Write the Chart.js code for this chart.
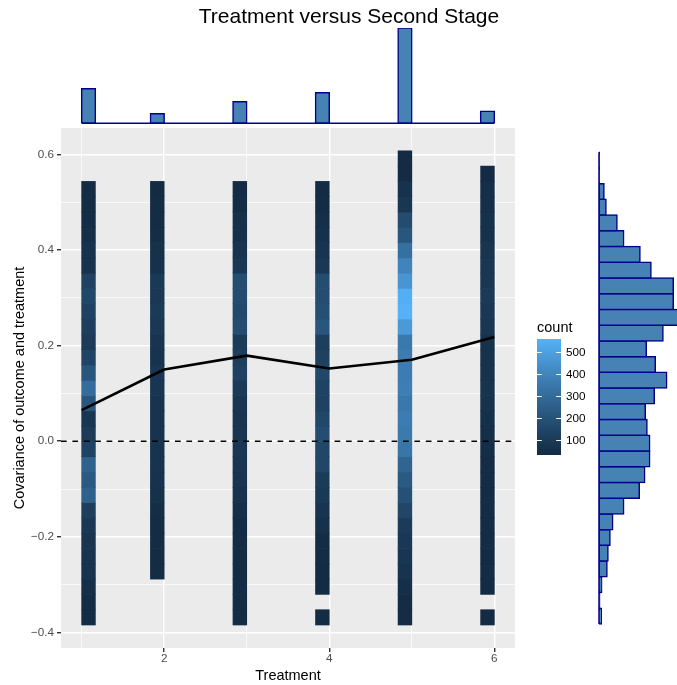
<!DOCTYPE html>
<html>
<head>
<meta charset="utf-8">
<script src="https://cdn.jsdelivr.net/npm/chart.js@4.4.1/dist/chart.umd.min.js"></script>
<style>
html,body{margin:0;padding:0;background:#ffffff;overflow:hidden}
#wrap{position:relative;width:677px;height:685px;overflow:hidden;background:#ffffff}
canvas{position:absolute}
</style>
</head>
<body>
<div id="wrap">
<canvas id="main" width="677" height="685" style="left:0;top:0"></canvas>
<canvas id="right" width="677" height="685" style="left:0;top:0"></canvas>
<canvas id="top" width="677" height="128" style="left:0;top:0"></canvas>
<canvas id="legend" width="80" height="170" style="left:525px;top:300px"></canvas>
</div>
<script>
// ---------------- data ----------------
const treatments = [1, 2, 3, 4, 5, 6];
const meanCov = [0.065, 0.150, 0.179, 0.152, 0.1705, 0.218];
const treatmentCounts = [3450, 950, 2150, 3050, 9550, 1200];

// 2-D bin counts (covariance bins from the bottom up; null = empty bin)
const covBinStart = -0.3845;
const covBinWidth = 0.032;
const countsT1 = [44,44,49,70,70,73,91,118,261,229,266,139,102,81,219,309,213,144,102,118,134,155,134,65,65,49,44,38,38];
const countsT2 = [null,null,null,38,40,40,42,45,58,66,70,72,70,68,70,80,88,72,75,92,100,92,96,60,58,45,42,38,37];
const countsT3 = [40,38,39,40,41,40,42,49,65,75,80,82,81,73,81,100,134,118,107,180,165,178,181,91,73,60,58,38,35];
const countsT4 = [33,null,36,37,38,40,60,73,96,107,150,150,181,155,134,139,155,128,123,218,187,181,181,91,75,60,49,38,36];
const countsT5 = [41,38,49,68,81,91,103,150,195,229,278,345,361,368,352,377,368,368,356,478,563,552,462,399,322,218,176,86,65,36,34];
const countsT6 = [34,null,36,38,37,38,39,40,38,39,40,48,49,55,64,72,66,64,65,82,92,100,86,86,73,60,58,50,49,35];

// marginal histogram of the covariance (bins from the bottom up)
const margBinStart = -0.3824;
const margBinWidth = 0.0329;
const margCounts = [23,7,27,80,90,110,137,247,403,457,507,507,480,463,553,677,563,473,640,800,743,743,520,410,247,180,70,50,3,3];

// axes / labels
const xTickValues = [2, 4, 6];
const xTickLabels = ['2', '4', '6'];
const yTickValues = [-0.4, -0.2, 0, 0.2, 0.4, 0.6];
const yTickLabels = ['\u22120.4', '\u22120.2', '0.0', '0.2', '0.4', '0.6'];
const legendBreaks = [100, 200, 300, 400, 500];
const titleText = 'Treatment versus Second Stage';
const xTitleText = 'Treatment';
const yTitleText = 'Covariance of outcome and treatment';
const legendTitleText = 'count';

// axis ranges
const xMin = 0.75, xMax = 6.25;
const yMin = -0.4326, yMax = 0.6552;

// ---------------- helpers ----------------
const FONT = "'Liberation Sans', Arial, Helvetica, sans-serif";
Chart.defaults.font.family = FONT;
Chart.defaults.animation = false;
Chart.defaults.responsive = false;
Chart.defaults.devicePixelRatio = 1;
Chart.defaults.plugins.legend.display = false;
Chart.defaults.plugins.tooltip.enabled = false;

const tMin = Math.min(...treatments), tMax = Math.max(...treatments);
const tBinWidth = (tMax - tMin) / 30;
function binCenter(t) { return t === tMin ? t + tBinWidth / 2 : t - tBinWidth / 2; }

function minorOf(major, lo, hi) {
  const step = major[1] - major[0];
  const out = [];
  for (let v = major[0] - step / 2; v <= hi + 1e-9; v += step) {
    if (v >= lo - 1e-9) out.push(+v.toFixed(6));
  }
  return out;
}

// Lab colour ramp (#132B43 -> #56B1F7)
function hexToRgb(h) { return [parseInt(h.slice(1,3),16), parseInt(h.slice(3,5),16), parseInt(h.slice(5,7),16)]; }
function s2l(c) { c /= 255; return c <= 0.04045 ? c / 12.92 : Math.pow((c + 0.055) / 1.055, 2.4); }
function l2s(c) { const v = c <= 0.0031308 ? 12.92 * c : 1.055 * Math.pow(c, 1 / 2.4) - 0.055; return Math.round(Math.max(0, Math.min(1, v)) * 255); }
const Xn = 0.95047, Yn = 1.0, Zn = 1.08883, EPS = 216 / 24389, KAP = 24389 / 27;
function fLab(t) { return t > EPS ? Math.cbrt(t) : (KAP * t + 16) / 116; }
function fInv(t) { const t3 = t * t * t; return t3 > EPS ? t3 : (116 * t - 16) / KAP; }
function rgbToLab(rgb) {
  const R = s2l(rgb[0]), G = s2l(rgb[1]), B = s2l(rgb[2]);
  const X = 0.4124564*R + 0.3575761*G + 0.1804375*B;
  const Y = 0.2126729*R + 0.7151522*G + 0.0721750*B;
  const Z = 0.0193339*R + 0.1191920*G + 0.9503041*B;
  const fx = fLab(X / Xn), fy = fLab(Y / Yn), fz = fLab(Z / Zn);
  return [116 * fy - 16, 500 * (fx - fy), 200 * (fy - fz)];
}
function labToRgb(lab) {
  const fy = (lab[0] + 16) / 116, fx = fy + lab[1] / 500, fz = fy - lab[2] / 200;
  const X = Xn * fInv(fx), Y = Yn * fInv(fy), Z = Zn * fInv(fz);
  const R = 3.2404542*X - 1.5371385*Y - 0.4985314*Z;
  const G = -0.9692660*X + 1.8760108*Y + 0.0415560*Z;
  const B = 0.0556434*X - 0.2040259*Y + 1.0572252*Z;
  return [l2s(R), l2s(G), l2s(B)];
}
const labLow = rgbToLab(hexToRgb('#132B43'));
const labHigh = rgbToLab(hexToRgb('#56B1F7'));

const countCols = [countsT1, countsT2, countsT3, countsT4, countsT5, countsT6];
const allCounts = countCols.flat().filter(v => v != null);
const cMin = Math.min(...allCounts), cMax = Math.max(...allCounts);
function countColor(c) {
  const t = Math.max(0, Math.min(1, (c - cMin) / (cMax - cMin)));
  const lab = [0, 1, 2].map(k => labLow[k] + (labHigh[k] - labLow[k]) * t);
  const rgb = labToRgb(lab);
  return 'rgb(' + rgb.join(',') + ')';
}

// heatmap cells
const cells = [];
countCols.forEach((arr, j) => {
  arr.forEach((c, i) => {
    if (c == null) return;
    cells.push({ x: binCenter(treatments[j]), y: [covBinStart + i * covBinWidth, covBinStart + (i + 1) * covBinWidth], c: c });
  });
});

const panelBg = {
  id: 'panelBg',
  beforeDraw(chart, args, opts) {
    if (!opts || !opts.color) return;
    const { ctx, chartArea: a } = chart;
    ctx.save();
    ctx.fillStyle = opts.color;
    ctx.fillRect(a.left, a.top, a.right - a.left, a.bottom - a.top);
    ctx.restore();
  }
};

// ---------------- main panel ----------------
const xMinor = minorOf(xTickValues, xMin, xMax);
const yMinor = minorOf(yTickValues, yMin, yMax);
const xLabelMap = new Map(xTickValues.map((v, i) => [v, xTickLabels[i]]));
const yLabelMap = new Map(yTickValues.map((v, i) => [v, yTickLabels[i]]));
const xAll = [...xTickValues, ...xMinor].sort((a, b) => a - b);
const yAll = [...yTickValues, ...yMinor].sort((a, b) => a - b);

const MAJOR_W = 1.42, MINOR_W = 0.71;

new Chart(document.getElementById('main'), {
  type: 'bar',
  plugins: [panelBg],
  data: {
    datasets: [
      {
        type: 'line', label: 'mean', order: 0,
        data: treatments.map((t, i) => ({ x: t, y: meanCov[i] })),
        borderColor: '#000000', borderWidth: 2.6, pointRadius: 0, tension: 0,
        borderJoinStyle: 'round', borderCapStyle: 'butt'
      },
      {
        type: 'line', label: 'zero', order: 1,
        data: [{ x: xMin, y: 0 }, { x: xMax, y: 0 }],
        borderColor: '#000000', borderWidth: 1.42, borderDash: [5.7, 5.7], pointRadius: 0
      },
      {
        type: 'bar', label: 'count', order: 2,
        data: cells,
        backgroundColor: cells.map(d => countColor(d.c)),
        borderWidth: 0, inflateAmount: 0.33,
        barPercentage: 0.2, categoryPercentage: 1, grouped: false
      }
    ]
  },
  options: {
    layout: { padding: { left: 0, top: 128, right: 162, bottom: 0 } },
    plugins: { panelBg: { color: '#EBEBEB' }, title: { display: false } },
    scales: {
      x: {
        type: 'linear', min: xMin, max: xMax, offset: false,
        afterBuildTicks: s => { s.ticks = xAll.map(v => ({ value: v })); },
        afterFit: s => { s.height = 37; },
        grid: {
          offset: false, color: '#FFFFFF',
          lineWidth: ctx => (ctx.tick && xLabelMap.has(ctx.tick.value)) ? MAJOR_W : MINOR_W,
          tickColor: ctx => (ctx.tick && xLabelMap.has(ctx.tick.value)) ? '#333333' : 'rgba(0,0,0,0)',
          tickWidth: 1.42, tickLength: 4, drawTicks: true
        },
        border: { display: false },
        ticks: {
          autoSkip: false, maxRotation: 0, padding: 0,
          color: '#4D4D4D', font: { size: 11.7 },
          callback: v => xLabelMap.has(v) ? xLabelMap.get(v) : ''
        },
        title: { display: true, text: xTitleText, color: '#000000', font: { size: 14.5 }, padding: { top: 0, bottom: 0 } }
      },
      y: {
        type: 'linear', min: yMin, max: yMax, offset: false,
        afterBuildTicks: s => { s.ticks = yAll.map(v => ({ value: v })); },
        afterFit: s => { s.width = 61; },
        grid: {
          offset: false, color: '#FFFFFF',
          lineWidth: ctx => (ctx.tick && yLabelMap.has(ctx.tick.value)) ? MAJOR_W : MINOR_W,
          tickColor: ctx => (ctx.tick && yLabelMap.has(ctx.tick.value)) ? '#333333' : 'rgba(0,0,0,0)',
          tickWidth: 1.42, tickLength: 4, drawTicks: true
        },
        border: { display: false },
        ticks: {
          autoSkip: false, padding: 3,
          color: '#4D4D4D', font: { size: 11.7 },
          callback: v => yLabelMap.has(v) ? yLabelMap.get(v) : ''
        },
        title: { display: true, text: yTitleText, color: '#000000', font: { size: 14.5 }, padding: { top: 11, bottom: 0 } }
      }
    }
  }
});

// ---------------- right marginal histogram ----------------
const margData = margCounts.map((c, i) => ({ x: c, y: margBinStart + (i + 0.5) * margBinWidth }));
new Chart(document.getElementById('right'), {
  type: 'bar',
  data: {
    datasets: [
      {
        type: 'line', order: 0, clip: false,
        data: [{ x: 0, y: margBinStart }, { x: 0, y: margBinStart + margCounts.length * margBinWidth }],
        borderColor: '#00008B', borderWidth: 1.5, pointRadius: 0
      },
      {
        type: 'bar', order: 1,
        data: margData,
        backgroundColor: '#4682B4', borderColor: '#00008B', borderWidth: 1.5,
        borderSkipped: false, inflateAmount: 0.75,
        barPercentage: 1, categoryPercentage: 1
      }
    ]
  },
  options: {
    indexAxis: 'y',
    layout: { padding: { left: 599, right: 0, top: 128, bottom: 37 } },
    scales: {
      y: {
        type: 'linear', min: yMin, max: yMax, offset: false, display: false,
        afterBuildTicks: s => { s.ticks = yTickValues.map(v => ({ value: v })); },
        grid: { offset: false }
      },
      x: { type: 'linear', min: 0, max: 780, display: false }
    }
  }
});

// ---------------- top marginal histogram + title ----------------
new Chart(document.getElementById('top'), {
  type: 'bar',
  data: {
    datasets: [
      {
        type: 'line', order: 0, clip: false,
        data: [{ x: tMin, y: 0 }, { x: tMax, y: 0 }],
        borderColor: '#00008B', borderWidth: 1.5, pointRadius: 0
      },
      {
        type: 'bar', order: 1,
        data: treatments.map((t, i) => ({ x: binCenter(t), y: treatmentCounts[i] })),
        backgroundColor: '#4682B4', borderColor: '#00008B', borderWidth: 1.5,
        borderSkipped: false, inflateAmount: 0.75,
        barPercentage: 0.2, categoryPercentage: 1
      }
    ]
  },
  options: {
    layout: { padding: { left: 21, right: 0, top: 0, bottom: 4.7 } },
    plugins: {
      title: {
        display: true, text: titleText, color: '#000000',
        font: { size: 21, weight: 'normal', lineHeight: 1 },
        padding: { top: 7, bottom: 0 }
      }
    },
    scales: {
      x: {
        type: 'linear', min: xMin, max: xMax, offset: false, display: false,
        afterBuildTicks: s => { s.ticks = xAll.map(v => ({ value: v })); },
        grid: { offset: false }
      },
      y: {
        type: 'linear', min: 0, max: Math.max(...treatmentCounts), position: 'left',
        display: true, afterFit: s => { s.width = 40; },
        ticks: { display: false }, grid: { display: false }, border: { display: false }
      },
      yPad: {
        type: 'linear', position: 'right', display: true,
        afterFit: s => { s.width = 162; },
        ticks: { display: false }, grid: { display: false }, border: { display: false }
      }
    }
  }
});

// ---------------- colour bar legend ----------------
new Chart(document.getElementById('legend'), {
  type: 'bar',
  data: {
    labels: [legendTitleText],
    datasets: [{
      data: [[cMin, cMax]],
      backgroundColor: ctx => {
        const chart = ctx.chart;
        const area = chart.chartArea;
        if (!area) return countColor(cMin);
        const ys = chart.scales.y;
        const y0 = ys.getPixelForValue(cMin), y1 = ys.getPixelForValue(cMax);
        const g = chart.ctx.createLinearGradient(0, y0, 0, y1);
        const n = 30;
        for (let k = 0; k <= n; k++) g.addColorStop(k / n, countColor(cMin + (cMax - cMin) * k / n));
        return g;
      },
      borderWidth: 0, inflateAmount: 0,
      barPercentage: 1, categoryPercentage: 1
    }]
  },
  options: {
    layout: { padding: { left: 12, right: 0, top: 0, bottom: 15 } },
    plugins: {
      title: {
        display: true, text: legendTitleText, align: 'start', color: '#000000',
        font: { size: 14.5, weight: 'normal' },
        padding: { top: 19, bottom: 2.6 }
      }
    },
    scales: {
      x: { display: false },
      y: {
        type: 'linear', min: cMin, max: cMax, position: 'right',
        afterBuildTicks: s => { s.ticks = legendBreaks.map(v => ({ value: v })); },
        afterFit: s => { s.width = 44; },
        grid: { color: '#FFFFFF', lineWidth: 1.1, drawTicks: false, z: 1 },
        border: { display: false, dash: [4.8, 14.4] },
        ticks: { padding: 5, color: '#000000', font: { size: 11.7 }, callback: v => String(v) }
      }
    }
  }
});
</script>
</body>
</html>
